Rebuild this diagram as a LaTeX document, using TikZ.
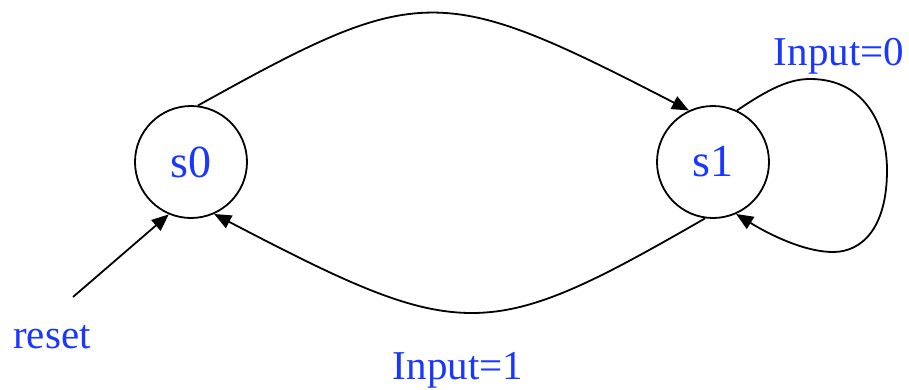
\documentclass[tikz,border=0pt]{standalone}
\usepackage{fontspec}
\setmainfont{Liberation Serif}
\usetikzlibrary{arrows.meta}
\definecolor{labelblue}{RGB}{25,55,255}
\tikzset{
  state/.style={circle, draw=black, line width=1.8pt, minimum size=112pt, inner sep=0pt,
    text=labelblue, font=\fontsize{46}{55}\selectfont},
  lbl/.style={text=labelblue, font=\fontsize{41}{49}\selectfont, anchor=base, inner sep=0pt},
  conn/.style={line width=1.8pt, -{Triangle[length=17pt,width=14pt]}}
}
\begin{document}
\begin{tikzpicture}[x=1pt,y=-1pt]
\useasboundingbox (0,0) rectangle (909,389);
\node[state] (s0) at (191,162) {s0};
\node[state] (s1) at (713,162) {s1};
\coordinate (rs) at (73,297);
\node[lbl] (lreset) at (52,348) {reset};
\node[lbl] (lin1) at (458,379) {Input=1};
\node[lbl] (lin0) at (839,65) {Input=0};
% top arc s0 -> s1
\draw[conn] (s0.83) .. controls (420,-18) and (440,-18) .. (s1.115);
% bottom arc s1 -> s0
\draw[conn] (s1.262) .. controls (487,344) and (463,344) .. (s0.294);
% self loop
\draw[conn] (s1.65) .. controls (770,88) and (790,79) .. (810,79)
  .. controls (868,79) and (887,130) .. (887,170)
  .. controls (887,228) and (862,252) .. (833,252)
  .. controls (805,252) and (770,235) .. (s1.294);
% reset
\draw[conn] (rs) -- (s0.247);
\end{tikzpicture}
\end{document}
